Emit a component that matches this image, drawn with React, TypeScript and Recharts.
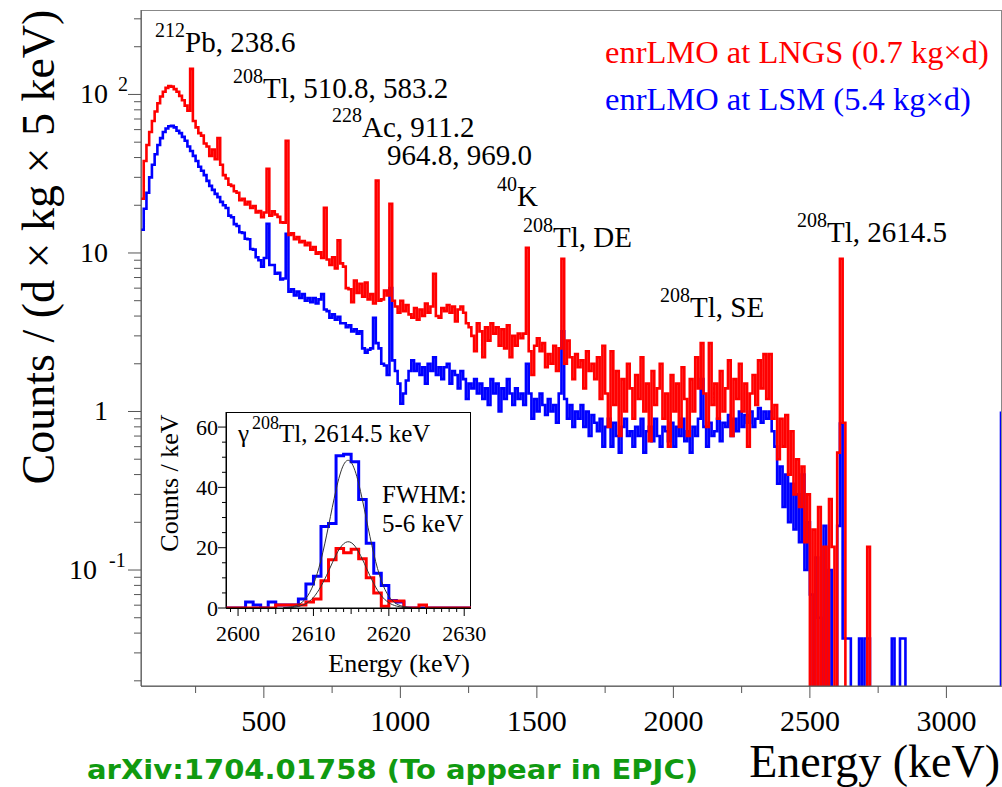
import { LineChart, Line, XAxis, YAxis } from "recharts";

const SERIF = "'Liberation Serif', 'Times New Roman', serif";
const AXIS = "#555";

// main spectrum: 10 keV bins from 50 keV, counts / (d x kg x 5 keV)
const BIN_START = 50;
const BIN_WIDTH = 10;
const Z = 0.001; // empty bin, sits below the log axis

const lngsCounts = [
  /* 50 */ 22, 38, 48, 58, 68, 78, 88, 97, 104, 110,
  /* 150 */ 113, 112, 108, 104, 98, 92, 85, 79, 145, 68,
  /* 250 */ 62, 57, 55, 49, 47, 41, 45, 39, 53, 36,
  /* 350 */ 31, 29.5, 27, 26.5, 24.5, 24, 21.5, 22, 20.2, 21,
  /* 450 */ 19.2, 19.8, 18, 18.4, 16.8, 18, 34, 17.2, 18.3, 17.5,
  /* 550 */ 16.9, 15.6, 15.5, 51, 13, 13.3, 12.2, 12.6, 11.7, 11.9,
  /* 650 */ 11.2, 11.6, 10.5, 10.9, 9.9, 10.1, 9.3, 19.3, 9.1, 8.4,
  /* 750 */ 9.4, 8.0, 12, 8.6, 8.2, 6.0, 5.9, 4.9, 6.7, 5.6,
  /* 850 */ 6.4, 5.3, 6.5, 5.1, 5.5, 4.8, 28.6, 5.0, 5.1, 5.8,
  /* 950 */ 5.4, 20.4, 5.0, 4.6, 4.2, 5.0, 4.3, 4.7, 4.1, 3.9,
  /* 1050 */ 4.5, 3.8, 4.4, 4.0, 4.8, 4.2, 4.6, 7.4, 4.0, 3.9,
  /* 1150 */ 4.5, 4.3, 4.7, 4.2, 4.6, 3.7, 4.4, 4.6, 4.2, 3.6,
  /* 1250 */ 3.4, 3.0, 2.4, 3.6, 3.2, 2.2, 3.4, 2.8, 3.6, 3.1,
  /* 1350 */ 3.4, 2.6, 3.3, 2.5, 3.5, 2.2, 3.0, 2.6, 3.1, 2.9,
  /* 1450 */ 3.1, 10.8, 2.4, 1.7, 2.6, 2.9, 2.4, 2.7, 1.9, 2.3,
  /* 1550 */ 2.0, 2.6, 1.8, 2.5, 9.2, 2.0, 2.8, 2.2, 1.6, 2.3,
  /* 1650 */ 1.9, 2.1, 1.4, 2.4, 1.8, 2.0, 1.6, 2.2, 1.2, 2.6,
  /* 1750 */ 1.3, 0.8, 2.4, 1.1, 1.8, 0.7, 1.6, 1.0, 2.0, 1.4,
  /* 1850 */ 0.9, 1.7, 1.2, 2.2, 1.0, 1.5, 0.65, 1.8, 1.1, 1.4,
  /* 1950 */ 2.0, 0.9, 1.3, 0.6, 1.7, 1.0, 1.5, 0.8, 1.9, 1.2,
  /* 2050 */ 0.7, 1.6, 1.0, 2.2, 1.4, 2.7, 1.3, 0.8, 2.7, 1.1,
  /* 2150 */ 1.5, 0.9, 1.8, 1.0, 1.4, 2.1, 0.7, 1.6, 1.2, 2.0,
  /* 2250 */ 1.0, 1.5, 0.6, 1.3, 1.7, 1.1, 2.1, 1.4, 2.3, 1.2,
  /* 2350 */ 2.3, 0.9, 1.1, 0.5, 0.9, 0.6, 0.95, 0.4, 0.75, 0.3,
  /* 2450 */ 0.5, 0.25, 0.45, 0.15, 0.3, Z, 0.18, Z, 0.25, Z,
  /* 2550 */ 0.14, Z, 0.28, 0.14, Z, 0.55, 9.2, 0.85, Z, Z,
  /* 2650 */ Z, Z, Z, Z, Z, Z, 0.14, Z, Z, Z,
  /* 2750 */ Z, Z, Z, Z, Z, Z, Z, Z, Z, Z,
  /* 2850 */ Z, Z, Z, Z, Z, Z, Z, Z, Z, Z,
  /* 2950 */ Z, Z, Z, Z, Z, Z, Z, Z, Z, Z,
  /* 3050 */ Z, Z, Z, Z, Z, Z, Z, Z, Z, Z,
  /* 3150 */ Z, Z, Z, Z, Z, Z,
];

const lsmCounts = [
  /* 50 */ 14, 19, 24, 30, 36, 42, 48, 53, 58, 61,
  /* 150 */ 63, 63.5, 62, 59, 57, 54, 51, 47, 44, 41,
  /* 250 */ 38, 35, 33, 31, 28.5, 26.5, 25, 23.6, 22.5, 21,
  /* 350 */ 20, 19.2, 17.2, 16.8, 15.2, 14.8, 13.5, 13.4, 12.3, 12.2,
  /* 450 */ 10.6, 10.5, 9.4, 9.0, 8.2, 9.3, 15.3, 8.4, 8.4, 7.4,
  /* 550 */ 7.5, 6.8, 6.9, 13.2, 5.7, 5.9, 5.4, 5.7, 5.2, 5.5,
  /* 650 */ 5.0, 5.2, 4.9, 5.2, 4.8, 5.1, 5.5, 4.4, 4.3, 3.9,
  /* 750 */ 4.1, 3.8, 3.95, 3.6, 3.6, 3.4, 3.5, 3.2, 3.3, 3.1,
  /* 850 */ 3.2, 2.5, 2.35, 2.45, 2.5, 3.9, 2.7, 2.5, 2.0, 1.95,
  /* 950 */ 1.7, 6.0, 2.1, 1.8, 1.5, 1.12, 1.3, 1.57, 1.8, 2.1,
  /* 1050 */ 1.8, 2.0, 1.7, 1.9, 1.5, 2.0, 1.8, 2.2, 1.7, 1.9,
  /* 1150 */ 1.6, 1.9, 2.0, 1.5, 1.8, 1.7, 1.4, 1.8, 1.6, 1.2,
  /* 1250 */ 1.5, 1.4, 1.6, 1.3, 1.5, 1.2, 1.4, 1.1, 1.6, 1.3,
  /* 1350 */ 1.5, 1.0, 1.4, 1.2, 1.6, 1.3, 1.1, 1.4, 1.2, 1.3,
  /* 1450 */ 1.1, 2.0, 1.3, 0.9, 1.2, 1.0, 1.3, 1.1, 0.95, 1.2,
  /* 1550 */ 1.0, 1.1, 0.85, 1.3, 3.2, 1.2, 0.9, 1.1, 0.8, 1.0,
  /* 1650 */ 0.9, 1.1, 0.8, 1.0, 0.7, 0.95, 0.85, 0.75, 0.9, 0.6,
  /* 1750 */ 0.8, 0.9, 0.6, 0.85, 0.7, 0.55, 0.8, 0.9, 0.7, 0.75,
  /* 1850 */ 0.6, 0.8, 0.7, 0.9, 0.55, 0.75, 0.8, 0.65, 0.9, 0.7,
  /* 1950 */ 0.6, 0.8, 0.75, 0.65, 0.85, 0.6, 0.8, 0.7, 0.9, 0.65,
  /* 2050 */ 0.75, 0.55, 0.8, 0.7, 0.9, 1.6, 0.8, 0.6, 0.85, 0.7,
  /* 2150 */ 0.75, 0.9, 0.65, 0.85, 0.8, 0.95, 0.7, 0.9, 0.75, 1.0,
  /* 2250 */ 0.8, 0.95, 0.85, 1.0, 0.8, 0.9, 1.05, 0.85, 1.0, 0.9,
  /* 2350 */ 1.0, 0.75, 0.6, 0.35, 0.45, 0.25, 0.4, 0.2, 0.35, 0.18,
  /* 2450 */ 0.3, 0.15, 0.4, 0.1, 0.2, 0.07, Z, 0.12, 0.05, Z,
  /* 2550 */ 0.19, Z, 0.1, Z, Z, 0.19, 0.84, 0.037, 0.037, 0.037,
  /* 2650 */ Z, Z, Z, 0.037, Z, 0.037, 0.037, Z, Z, Z,
  /* 2750 */ Z, Z, Z, Z, Z, 0.037, Z, Z, 0.037, 0.037,
  /* 2850 */ Z, Z, Z, Z, Z, Z, Z, Z, Z, Z,
  /* 2950 */ Z, Z, Z, Z, Z, Z, Z, Z, Z, Z,
  /* 3050 */ Z, Z, Z, Z, Z, Z, Z, Z, Z, Z,
  /* 3150 */ Z, Z, Z, Z, Z, 1.0,
];

const energyTicks = [250, 500, 750, 1000, 1250, 1500, 1750, 2000, 2250, 2500, 2750, 3000];
const countTicks = [
  0.02, 0.03, 0.04, 0.05, 0.06, 0.07, 0.08, 0.09,
  0.1, 0.2, 0.3, 0.4, 0.5, 0.6, 0.7, 0.8, 0.9,
  1, 2, 3, 4, 5, 6, 7, 8, 9,
  10, 20, 30, 40, 50, 60, 70, 80, 90,
  100, 200, 300,
];

// inset: 1 keV bins around the 2614.5 keV line, counts / keV
const insetEnergy = [
  2598, 2599, 2600, 2601, 2602, 2603, 2604, 2605, 2606, 2607, 2608, 2609,
  2610, 2611, 2612, 2613, 2614, 2615, 2616, 2617, 2618, 2619, 2620, 2621,
  2622, 2623, 2624, 2625, 2626, 2627, 2628, 2629, 2630, 2631,
];
const insetLsm = [
  0, 0, 0, 2, 1, 0, 2, 1, 1, 1, 3, 8,
  10.5, 27, 28, 50.5, 51, 48.5, 36, 21.5, 11.5, 7.5, 2.5, 2,
  0, 0, 0, 0, 0, 0, 0, 0, 0, 0,
];
const insetLngs = [
  0, 0, 0, 0, 0, 0, 0, 1, 1, 1, 1, 2,
  3, 9, 16, 19.7, 18.3, 19.5, 16.3, 10, 5, 0.6, 2.3, 2.3,
  0, 0, 1, 0, 0, 0, 0, 0, 0, 0,
];
const insetLsmFit = [
  null, null, null, null, null, null, null, null, 0.1, 0.35, 1.1, 3.2,
  7.8, 15.9, 27.2, 39.2, 47.5, 48.3, 41.3, 29.7, 18, 9.1, 3.9, 1.4,
  0.45, 0.1, null, null, null, null, null, null, null, null,
];
const insetLngsFit = [
  null, null, null, null, null, null, null, null, 0.05, 0.15, 0.5, 1.45,
  3.5, 7.2, 12.2, 17.6, 21.3, 21.7, 18.6, 13.4, 8.1, 4.1, 1.75, 0.65,
  0.2, 0.05, null, null, null, null, null, null, null, null,
];
const insetEnergyTicks = [
  2599, 2600, 2601, 2602, 2603, 2604, 2605, 2606, 2607, 2608, 2609, 2610,
  2611, 2612, 2613, 2614, 2615, 2616, 2617, 2618, 2619, 2620, 2621, 2622,
  2623, 2624, 2625, 2626, 2627, 2628, 2629, 2630,
];
const insetCountTicks = [0, 5, 10, 15, 20, 25, 30, 35, 40, 45, 50, 55, 60];

const spectrum = lngsCounts.map((v, i) => ({
  energy: BIN_START + i * BIN_WIDTH,
  lngs: v,
  lsm: lsmCounts[i],
}));

const peak = insetEnergy.map((e, i) => ({
  energy: e,
  lsm: insetLsm[i],
  lngs: insetLngs[i],
  lsmFit: insetLsmFit[i],
  lngsFit: insetLngsFit[i],
}));

// plot edges of the main chart, in page pixels
const PLOT_LEFT = 141;
const PLOT_BOTTOM = 686;
// plot edges of the inset, local to its own svg
const INSET_LEFT = 76;
const INSET_BOTTOM = 208;

function EnergyTick({ x, payload }: any) {
  const major = payload.value % 500 === 0;
  return (
    <g>
      <line x1={x} x2={x} y1={PLOT_BOTTOM} y2={PLOT_BOTTOM + (major ? 12 : 7)} stroke={AXIS} />
      {major && (
        <text x={x} y={731} textAnchor="middle" fontFamily={SERIF} fontSize={30} fill="#000">
          {payload.value}
        </text>
      )}
    </g>
  );
}

function CountTick({ y, payload }: any) {
  const lg = Math.log10(payload.value);
  const exp = Math.round(lg);
  const major = Math.abs(lg - exp) < 1e-6;
  let label = null;
  if (major) {
    if (exp === 0 || exp === 1) {
      label = (
        <text x={108} y={y + 9} textAnchor="end" fontFamily={SERIF} fontSize={28} fill="#000">
          {exp === 0 ? "1" : "10"}
        </text>
      );
    } else {
      const baseEnd = exp > 0 ? 108 : 97;
      label = (
        <g>
          <text x={baseEnd} y={y + 9} textAnchor="end" fontFamily={SERIF} fontSize={28} fill="#000">10</text>
          <text x={baseEnd + (exp > 0 ? 10 : 12)} y={y - 3} fontFamily={SERIF} fontSize={20} fill="#000">
            {exp}
          </text>
        </g>
      );
    }
  }
  return (
    <g>
      <line x1={PLOT_LEFT - (major ? 13 : 7)} x2={PLOT_LEFT} y1={y} y2={y} stroke={AXIS} />
      {label}
    </g>
  );
}

function InsetEnergyTick({ x, payload }: any) {
  const v = payload.value;
  const len = v % 10 === 0 ? 8 : v % 5 === 0 ? 6 : 4;
  return (
    <g>
      <line x1={x} x2={x} y1={INSET_BOTTOM} y2={INSET_BOTTOM + len} stroke="#000" />
      {v % 10 === 0 && (
        <text x={x} y={INSET_BOTTOM + 33} textAnchor="middle" fontFamily={SERIF} fontSize={22} fill="#000">
          {v}
        </text>
      )}
    </g>
  );
}

function InsetCountTick({ y, payload }: any) {
  const v = payload.value;
  const major = v % 20 === 0;
  return (
    <g>
      <line x1={INSET_LEFT - (major ? 8 : 4)} x2={INSET_LEFT} y1={y} y2={y} stroke="#000" />
      {major && (
        <text x={INSET_LEFT - 8} y={y + 7.5} textAnchor="end" fontFamily={SERIF} fontSize={22} fill="#000">
          {v}
        </text>
      )}
    </g>
  );
}

function Nuclide({ x, y, mass, rest, size = 29, supSize = 20, rise = 15 }: any) {
  return (
    <g fontFamily={SERIF} fill="#000">
      <text x={x} y={y - rise} fontSize={supSize}>{mass}</text>
      <text x={x + mass.length * supSize * 0.5} y={y} fontSize={size}>{rest}</text>
    </g>
  );
}

export default function App() {
  return (
    <div style={{ position: "relative", width: 1002, height: 787, background: "#fff", overflow: "hidden" }}>
      <style>{"body{margin:0}"}</style>

      {/* frame of the main plot */}
      <div
        style={{
          position: "absolute", left: PLOT_LEFT, top: 10, width: 861, height: 677,
          border: "1px solid #888", boxSizing: "border-box",
        }}
      />

      <div style={{ position: "absolute", left: 0, top: 0 }}>
        <LineChart width={1002} height={787} data={spectrum} margin={{ top: 10, right: 1, left: 0, bottom: 0 }}>
          <XAxis
            dataKey="energy"
            type="number"
            domain={[50, 3200]}
            allowDataOverflow
            ticks={energyTicks}
            interval={0}
            height={101}
            tickLine={false}
            axisLine={{ stroke: AXIS }}
            tick={(p: any) => <EnergyTick {...p} />}
          />
          <YAxis
            type="number"
            scale="log"
            domain={[0.01855, 341]}
            allowDataOverflow
            ticks={countTicks}
            interval={0}
            width={141}
            tickLine={false}
            axisLine={{ stroke: AXIS }}
            tick={(p: any) => <CountTick {...p} />}
          />
          <Line dataKey="lsm" type="stepAfter" stroke="#0000ff" strokeWidth={2.6} dot={false} activeDot={false} isAnimationActive={false} />
          <Line dataKey="lngs" type="stepAfter" stroke="#ff0000" strokeWidth={2.6} dot={false} activeDot={false} isAnimationActive={false} />
        </LineChart>
      </div>

      {/* inset background and frame */}
      <div
        style={{
          position: "absolute", left: 226, top: 412, width: 245, height: 197,
          background: "#fff", border: "1px solid #000", boxSizing: "border-box",
        }}
      />

      <div style={{ position: "absolute", left: 150, top: 400 }}>
        <LineChart width={345} height={290} data={peak} margin={{ top: 12, right: 24, left: 0, bottom: 0 }}>
          <XAxis
            dataKey="energy"
            type="number"
            domain={[2598.4, 2630.9]}
            allowDataOverflow
            ticks={insetEnergyTicks}
            interval={0}
            height={82}
            tickLine={false}
            axisLine={{ stroke: "#000" }}
            tick={(p: any) => <InsetEnergyTick {...p} />}
          />
          <YAxis
            type="number"
            domain={[0, 65]}
            allowDataOverflow
            ticks={insetCountTicks}
            interval={0}
            width={76}
            tickLine={false}
            axisLine={{ stroke: "#000" }}
            tick={(p: any) => <InsetCountTick {...p} />}
          />
          <Line dataKey="lsm" type="stepAfter" stroke="#0000ff" strokeWidth={3} dot={false} activeDot={false} isAnimationActive={false} />
          <Line dataKey="lngs" type="stepAfter" stroke="#ff0000" strokeWidth={3} dot={false} activeDot={false} isAnimationActive={false} />
          <Line dataKey="lsmFit" type="natural" stroke="#333" strokeWidth={1} dot={false} activeDot={false} isAnimationActive={false} />
          <Line dataKey="lngsFit" type="natural" stroke="#333" strokeWidth={1} dot={false} activeDot={false} isAnimationActive={false} />
        </LineChart>
      </div>

      {/* annotations and titles */}
      <svg width={1002} height={787} style={{ position: "absolute", left: 0, top: 0, pointerEvents: "none" }}>
        <Nuclide x={155} y={52} mass="212" rest="Pb, 238.6" />
        <Nuclide x={233} y={98} mass="208" rest="Tl, 510.8, 583.2" />
        <Nuclide x={332} y={137} mass="228" rest="Ac, 911.2" />
        <text x={387} y={165} fontFamily={SERIF} fontSize={29} fill="#000">964.8, 969.0</text>
        <Nuclide x={497} y={206} mass="40" rest="K" />
        <Nuclide x={523} y={247} mass="208" rest="Tl, DE" />
        <Nuclide x={660} y={317} mass="208" rest="Tl, SE" />
        <Nuclide x={797} y={242} mass="208" rest="Tl, 2614.5" />

        <text x={605} y={63} fontFamily={SERIF} fontSize={32.5} fill="#ff0000">enrLMO at LNGS (0.7 kg×d)</text>
        <text x={605} y={110} fontFamily={SERIF} fontSize={32.5} fill="#0000ff">enrLMO at LSM (5.4 kg×d)</text>

        <text x={238} y={442} fontFamily={SERIF} fontSize={25} fill="#000">γ</text>
        <Nuclide x={252} y={442} mass="208" rest="Tl, 2614.5 keV" size={25} supSize={18} rise={13} />
        <text x={382} y={503} fontFamily={SERIF} fontSize={25} fill="#000">FWHM:</text>
        <text x={382} y={532} fontFamily={SERIF} fontSize={25} fill="#000">5-6 keV</text>
        <text x={470} y={672} textAnchor="end" fontFamily={SERIF} fontSize={26} fill="#000">Energy (keV)</text>
        <text
          x={178} y={483} textAnchor="middle" transform="rotate(-90 178 483)"
          fontFamily={SERIF} fontSize={26} fill="#000"
        >
          Counts / keV
        </text>

        <text x={1000} y={777} textAnchor="end" fontFamily={SERIF} fontSize={46} fill="#000">Energy (keV)</text>
        <text
          x={54} y={247} textAnchor="middle" transform="rotate(-90 54 247)"
          fontFamily={SERIF} fontSize={46} fill="#000"
        >
          Counts / (d × kg × 5 keV)
        </text>

        <text
          x={87} y={779} fontFamily="'DejaVu Sans', sans-serif" fontWeight="bold" fontSize={27}
          fill="#109a10" textLength={611} lengthAdjust="spacingAndGlyphs"
        >
          arXiv:1704.01758 (To appear in EPJC)
        </text>
      </svg>
    </div>
  );
}
